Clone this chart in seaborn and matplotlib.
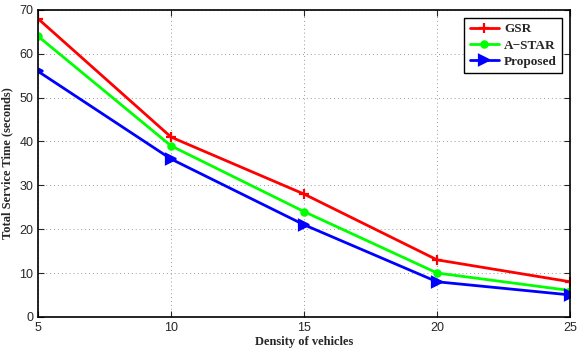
import numpy as np
import pandas as pd
import seaborn as sns
import matplotlib.pyplot as plt

density = [5, 10, 15, 20, 25]
gsr = [68, 41, 28, 13, 8]
astar = [64, 39, 24, 10, 6]
proposed = [56, 36, 21, 8, 5]

series = [("GSR", gsr, "#ff0000", "+", 7),
          ("A\u2212STAR", astar, "#00ff00", "o", 4.5),
          ("Proposed", proposed, "#0000ff", ">", 6.5)]

sns.set_style("ticks")
plt.rcParams["font.family"] = ["Liberation Sans Narrow", "Liberation Sans", "DejaVu Sans"]

fig = plt.figure(figsize=(5.77, 3.56), dpi=100)
ax = fig.add_axes([0.066, 0.110, 0.922, 0.862])

for name, vals, col, mk, ms in series:
    sns.lineplot(x=density, y=vals, color=col, marker=mk, lw=2.0,
                 markersize=ms, markeredgewidth=1.6, markeredgecolor=col,
                 label=name, ax=ax)

ax.set_xlim(5, 25)
ax.set_ylim(0, 70)
ax.set_xticks(density)
ax.set_yticks(range(0, 71, 10))
ax.grid(True, ls=(0, (1, 3)), color="#999999", lw=0.7)
for s in ax.spines.values():
    s.set_visible(True)
    s.set_color("black")
    s.set_linewidth(1.2)
ax.tick_params(direction="in", labelsize=9, length=4, top=True, right=True)

serif = ["Liberation Serif", "DejaVu Serif"]
ax.set_xlabel("Density of vehicles", family=serif, fontweight="bold", fontsize=9, labelpad=2)
ax.set_ylabel("Total Service Time (seconds)", family=serif, fontweight="bold", fontsize=9, labelpad=4)

leg = ax.legend(loc="upper right", prop={"family": serif, "weight": "bold", "size": 9.5},
                fancybox=False, framealpha=1, edgecolor="black", handlelength=2.2,
                handletextpad=0.4, borderaxespad=0.6, labelspacing=0.3)
leg.get_frame().set_linewidth(1.0)

fig.savefig("out.png", dpi=100)
